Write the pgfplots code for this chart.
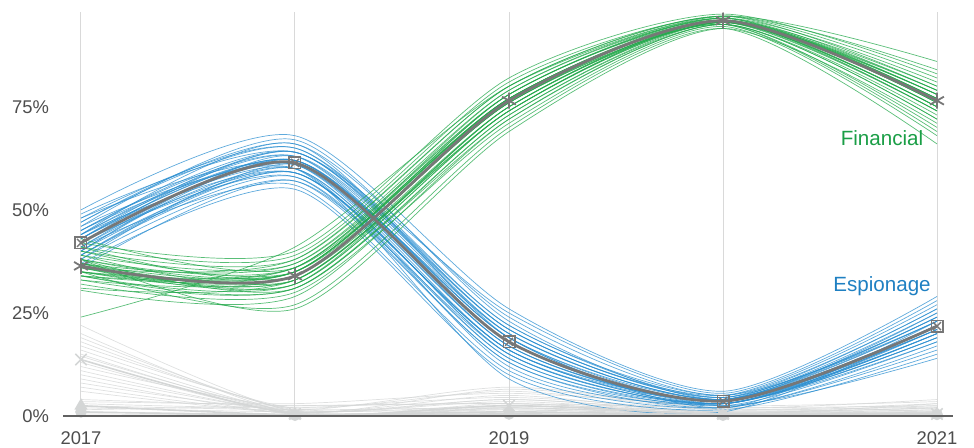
\documentclass[border=0pt]{standalone}
\usepackage{pgfplots}
\pgfplotsset{compat=1.18}
\usepackage{fontspec}
\setmainfont{Liberation Sans}
\definecolor{fin}{HTML}{22A84A}
\definecolor{finT}{HTML}{1A9E46}
\definecolor{esp}{HTML}{2A8ED0}
\definecolor{espT}{HTML}{1F80C2}
\definecolor{oth}{HTML}{D4D6D6}
\definecolor{mainl}{HTML}{777777}
\definecolor{tick}{HTML}{4D4D4D}
\pgfplotsset{
  finthin/.style={fin, line width=0.35pt, opacity=0.75, smooth, tension=0.45, no marks},
  espthin/.style={esp, line width=0.35pt, opacity=0.75, smooth, tension=0.45, no marks},
  oththin/.style={oth, line width=0.35pt, opacity=0.75, smooth, tension=0.45, no marks},
}
\newcommand{\fin}[5]{\addplot[finthin] coordinates {(2017,#1)(2018,#2)(2019,#3)(2020,#4)(2021,#5)};}
\newcommand{\esp}[5]{\addplot[espthin] coordinates {(2017,#1)(2018,#2)(2019,#3)(2020,#4)(2021,#5)};}
\newcommand{\oth}[5]{\addplot[oththin] coordinates {(2017,#1)(2018,#2)(2019,#3)(2020,#4)(2021,#5)};}
\begin{document}
\begin{tikzpicture}
\begin{axis}[
  scale only axis, width=428pt, height=202pt,
  xmin=2017, xmax=2021, ymin=0, ymax=98,
  clip=true,
  axis line style={draw=none},
  xtick={2017,2018,2019,2020,2021},
  xticklabels={2017,,2019,,2021},
  ytick={0,25,50,75},
  yticklabels={0\%,25\%,50\%,75\%},
  major tick length=0pt,
  xmajorgrids, grid style={color=black!15, line width=0.5pt},
  tick label style={font=\fontsize{9.2}{10}\selectfont, text=tick},
  xticklabel style={yshift=-4.5pt},
  yticklabel style={xshift=-12.5pt},
]
% other categories
\oth{22}{1}{3}{0.5}{1}
\oth{20}{0.5}{2}{0.3}{0.5}
\oth{18}{1.5}{4}{1}{2}
\oth{16}{0.8}{1}{0.2}{0.5}
\oth{14.5}{1.2}{5}{0.6}{3}
\oth{13}{0.5}{2.5}{0.4}{1}
\oth{12}{2}{6}{1.5}{2.5}
\oth{11}{0.7}{1.5}{0.3}{0.4}
\oth{10}{1}{3.5}{0.8}{1.5}
\oth{9}{0.4}{2}{0.5}{0.8}
\oth{8}{1.5}{7}{2}{4}
\oth{6}{0.6}{1}{0.3}{0.5}
\oth{4}{2.5}{3}{1}{1.5}
\oth{3}{2}{4.5}{1.5}{3}
\oth{2.5}{1.5}{2}{0.8}{1}
\oth{2}{1}{1.5}{0.5}{0.8}
\oth{1.5}{2.5}{3}{2}{2.5}
\oth{1}{0.5}{1}{0.3}{0.5}
\oth{3.5}{3}{5.5}{2.5}{3.5}
\oth{0.5}{0.3}{0.5}{0.2}{0.3}
\oth{17}{1.8}{2.5}{1.2}{1.8}
\oth{15}{0.9}{6.5}{1.8}{2.2}
\oth{19}{1.2}{1.8}{0.6}{1.2}
\oth{7}{0.8}{4}{1}{2}
% espionage ensemble
\esp{44}{63}{20}{4}{23}
\esp{40}{59}{16}{3}{20}
\esp{47}{66}{24}{5}{26}
\esp{38}{57}{13}{2}{17}
\esp{43}{62}{19}{4}{22}
\esp{50}{68}{26}{6}{29}
\esp{41}{60}{15}{3}{19}
\esp{45}{64}{22}{4.5}{24}
\esp{37}{55}{10}{1.5}{15}
\esp{42}{61}{17}{3.5}{21}
\esp{48}{65}{21}{5}{27}
\esp{39}{58}{14}{2.5}{18}
\esp{46}{67}{23}{4}{25}
\esp{43}{60}{12}{3}{20}
\esp{40}{62}{19}{2}{23}
\esp{44}{59}{16}{4}{21}
\esp{49}{64}{25}{5.5}{28}
\esp{41}{56}{11}{2}{16}
\esp{45}{63}{18}{3}{22}
\esp{38}{61}{20}{4}{24}
\esp{42}{58}{13}{3}{19}
\esp{47}{65}{22}{5}{23}
\esp{36}{57}{15}{2.5}{14}
\esp{43}{62}{17}{3.5}{20}
\esp{46}{60}{9}{1}{22}
\esp{40}{63}{21}{4.5}{26}
\esp{44}{66}{19}{3}{21}
\esp{39}{59}{14}{3}{18}
\esp{48}{61}{16}{4}{25}
\esp{42}{64}{20}{4}{22}
\esp{41}{62}{18}{3.5}{21}
\esp{45}{61}{17}{4}{23}
\esp{43}{64}{21}{4.5}{24}
\esp{39}{60}{15}{3}{19}
\esp{44}{62}{19}{3.5}{22}
\esp{42}{59}{16}{3}{20}
% financial ensemble
\fin{38}{36}{79}{96.5}{78}
\fin{35}{33}{74}{95.5}{75}
\fin{40}{38}{80}{97}{82}
\fin{33}{31}{72}{95}{72}
\fin{37}{35}{77}{96}{80}
\fin{34}{32}{75}{95}{70}
\fin{41}{39}{81}{97}{84}
\fin{36}{34}{76}{96}{77}
\fin{32}{30}{71}{94.5}{68}
\fin{39}{37}{78}{96.5}{79}
\fin{24}{41}{80}{97}{86}
\fin{35}{27}{70}{94}{66}
\fin{43}{36}{77}{95.5}{74}
\fin{31}{33}{74}{96}{76}
\fin{38}{26}{69}{94}{71}
\fin{36}{35}{78}{96.5}{81}
\fin{42}{40}{82}{97.5}{83}
\fin{34}{31}{73}{95}{73}
\fin{37}{37}{79}{96}{75}
\fin{33}{34}{76}{95.5}{78}
\fin{39}{33}{75}{96}{77}
\fin{35}{36}{77}{96}{74}
\fin{40}{35}{76}{95.5}{79}
\fin{30.5}{29}{72}{95}{72}
\fin{37}{32}{74}{96}{76}
\fin{36}{38}{80}{97}{80}
\fin{41}{34}{75}{95}{69}
\fin{34}{36}{78}{96.5}{77}
\fin{38}{31}{73}{95.5}{75}
\fin{35}{35}{77}{96}{78}
\fin{36}{33}{75}{96}{76}
\fin{37}{34}{77}{95.5}{77}
\fin{35}{34}{76}{96}{75}
\fin{38}{35}{78}{96}{78}
\fin{36}{32}{74}{95.5}{74}
\fin{34}{35}{77}{96}{79}
% main lines for other categories
\addplot[oth, line width=0.8pt, smooth, tension=0.45, mark=x, mark size=4pt, mark options={line width=0.8pt}]
  coordinates {(2017,13.7)(2018,0.5)(2019,2.5)(2020,0.5)(2021,0.5)};
\addplot[oth, line width=0.8pt, smooth, tension=0.45, mark=triangle*, mark size=3pt]
  coordinates {(2017,2.5)(2018,0.3)(2019,1)(2020,0.3)(2021,0.5)};
\addplot[oth, line width=0.8pt, smooth, tension=0.45, mark=*, mark size=2.5pt]
  coordinates {(2017,1)(2018,0.2)(2019,0.5)(2020,0.2)(2021,0.4)};
% main lines
\addplot[mainl, line width=1.4pt, smooth, tension=0.45, mark=square, mark size=2.8pt, mark options={line width=0.9pt}]
  coordinates {(2017,42.0)(2018,61.4)(2019,18.0)(2020,3.6)(2021,21.8)};
\addplot[mainl, draw=none, only marks, mark=x, mark size=2.8pt, mark options={line width=0.7pt}]
  coordinates {(2017,42.0)(2018,61.4)(2019,18.0)(2020,3.6)(2021,21.8)};
\addplot[mainl, line width=1.4pt, smooth, tension=0.45, mark=asterisk, mark size=4pt, mark options={line width=0.9pt}]
  coordinates {(2017,36.4)(2018,34.0)(2019,76.5)(2020,95.9)(2021,76.5)};
% labels
\node[font=\fontsize{10.3}{12}\selectfont, text=finT] at (axis cs:2020.743,67.5) {Financial};
\node[font=\fontsize{10.3}{12}\selectfont, text=espT] at (axis cs:2020.743,31.6) {Espionage};
\end{axis}
\draw[black!62, line width=0.8pt] (-9pt,0) -- (436pt,0);
\pgfresetboundingbox
\useasboundingbox (-40.5pt,-15.5pt) rectangle (446.5pt,208pt);
\end{tikzpicture}
\end{document}
